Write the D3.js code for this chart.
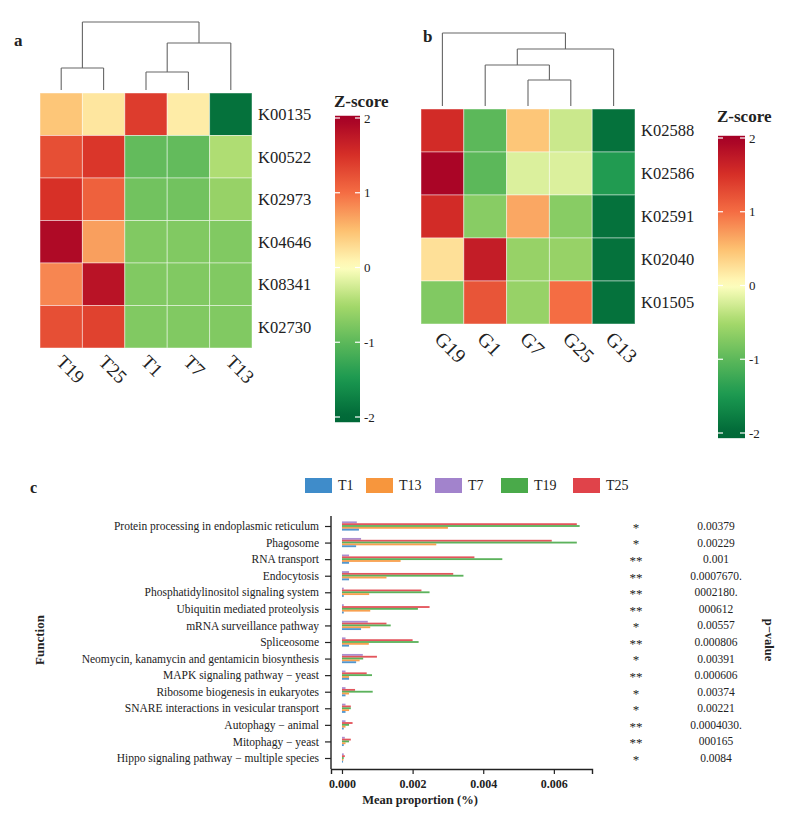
<!DOCTYPE html>
<html><head><meta charset="utf-8">
<script src="https://cdn.jsdelivr.net/npm/d3@7"></script>
<style>body{margin:0;background:#fff}svg{display:block}text{font-family:"Liberation Serif","Times New Roman",serif;fill:#222}</style>
</head><body><svg id="c" width="789" height="837"></svg>
<script>
// ---------- DATA ----------
const colsA = ["T19","T25","T1","T7","T13"];
const rowsA = ["K00135","K00522","K02973","K04646","K08341","K02730"];
const valsA = [
  [0.45, 0.2, 1.4, 0.15, -1.9],
  [1.25, 1.45, -0.95, -0.95, -0.45],
  [1.5, 1.1, -0.85, -0.85, -0.6],
  [1.9, 0.7, -0.75, -0.75, -0.75],
  [0.85, 1.8, -0.75, -0.75, -0.75],
  [1.25, 1.35, -0.75, -0.75, -0.75]
];
const dendroA = {h:68, children:[{h:22, children:[{leaf:"T19"},{leaf:"T25"}]},{h:47, children:[{h:18, children:[{leaf:"T1"},{leaf:"T7"}]},{leaf:"T13"}]}]};

const colsB = ["G19","G1","G7","G25","G13"];
const rowsB = ["K02588","K02586","K02591","K02040","K01505"];
const valsB = [
  [1.55, -1.0, 0.45, -0.3, -1.9],
  [1.95, -1.0, -0.2, -0.2, -1.45],
  [1.55, -0.7, 0.65, -0.7, -1.9],
  [0.25, 1.7, -0.6, -0.6, -1.9],
  [-0.75, 1.2, -0.6, 1.0, -1.9]
];
const dendroB = {h:73, children:[{leaf:"G19"},{h:57, children:[{h:41, children:[{leaf:"G1"},{h:26, children:[{leaf:"G7"},{leaf:"G25"}]}]},{leaf:"G13"}]}]};

const zTicks = [2,1,0,-1,-2];
const zStops = [-2,-1.5,-1,-0.5,0,0.5,1,1.5,2];
const zColors = ["#006837","#1a9850","#5cb85a","#a6d96a","#ffffbf","#fdc070","#f46d43","#d73027","#a50026"];

const functions = ["Protein processing in endoplasmic reticulum","Phagosome","RNA transport","Endocytosis","Phosphatidylinositol signaling system","Ubiquitin mediated proteolysis","mRNA surveillance pathway","Spliceosome","Neomycin, kanamycin and gentamicin biosynthesis","MAPK signaling pathway \u2212 yeast","Ribosome biogenesis in eukaryotes","SNARE interactions in vesicular transport","Autophagy \u2212 animal","Mitophagy \u2212 yeast","Hippo signaling pathway \u2212 multiple species"];
const groups = ["T1","T13","T7","T19","T25"];
const T1  = [0.00048,0.00040,0.00020,0.00020,0.00005,0.00005,0.00054,0.00020,0.00040,0.00020,0.00010,0.00010,0.00005,0.00005,0.00003];
const T13 = [0.00300,0.00267,0.00166,0.00126,0.00077,0.00080,0.00080,0.00076,0.00050,0.00020,0.00020,0.00020,0.00010,0.00010,0.00004];
const T7  = [0.00042,0.00054,0.00020,0.00020,0.00005,0.00005,0.00073,0.00010,0.00059,0.00010,0.00010,0.00010,0.00010,0.00008,0.00005];
const T19 = [0.00673,0.00665,0.00454,0.00344,0.00248,0.00215,0.00138,0.00217,0.00060,0.00085,0.00087,0.00025,0.00020,0.00020,0.00005];
const T25 = [0.00665,0.00594,0.00375,0.00315,0.00225,0.00248,0.00126,0.00200,0.00099,0.00070,0.00037,0.00025,0.00030,0.00025,0.00008];
const stars = ["*","*","**","**","**","**","*","**","*","**","*","*","**","**","*"];
const pvals = ["0.00379","0.00229","0.001","0.0007670.","0002180.","000612","0.00557","0.000806","0.00391","0.000606","0.00374","0.00221","0.0004030.","000165","0.0084"];
const xTicks = [0,0.002,0.004,0.006];

// ---------- DRAW ----------
const svg = d3.select("#c");
const zColor = d3.scaleLinear().domain(zStops).range(zColors).clamp(true);

function heatmap(g, cols, rows, vals, dendro, opt){
  const x = d3.scaleBand().domain(cols).range([opt.x0, opt.x1]);
  const y = d3.scaleBand().domain(rows).range([opt.y0, opt.y1]);
  rows.forEach((r,i)=>cols.forEach((c,j)=>{
    g.append("rect").attr("x",x(c)).attr("y",y(r)).attr("width",x.bandwidth()).attr("height",y.bandwidth())
      .attr("fill",zColor(vals[i][j])).attr("stroke","#fff").attr("stroke-opacity",0.45).attr("stroke-width",1);
  }));
  rows.forEach(r=>g.append("text").attr("x",opt.x1+6).attr("y",y(r)+y.bandwidth()/2).attr("dy","0.35em")
    .attr("font-size",opt.rowFs).text(r));
  cols.forEach(c=>g.append("text").attr("transform",`translate(${x(c)+x.bandwidth()/2-opt.colDx},${opt.y1+opt.colDy}) rotate(45)`)
    .attr("font-size",opt.colFs).text(c));
  // dendrogram
  const hy = d3.scaleLinear().domain([0,opt.hMax]).range([opt.leafY,opt.leafY-opt.hMax]);
  const lines = [];
  function pos(n){
    if(n.leaf) return {x:x(n.leaf)+x.bandwidth()/2,h:0};
    const ch = n.children.map(pos);
    ch.forEach(c=>lines.push([c.x,hy(c.h),c.x,hy(n.h)]));
    lines.push([ch[0].x,hy(n.h),ch[ch.length-1].x,hy(n.h)]);
    return {x:d3.mean(ch,c=>c.x),h:n.h};
  }
  pos(dendro);
  g.selectAll(null).data(lines).join("line").attr("x1",d=>d[0]).attr("y1",d=>d[1]).attr("x2",d=>d[2]).attr("y2",d=>d[3])
    .attr("stroke","#666").attr("stroke-width",1.1);
}

function colorbar(g, o){
  const ys = d3.scaleLinear().domain([2,-2]).range([o.yTop,o.yBot]);
  const id = "grad"+o.id;
  const lg = svg.append("defs").append("linearGradient").attr("id",id).attr("x1",0).attr("x2",0).attr("y1",0).attr("y2",1);
  d3.range(0,1.0001,0.025).forEach(t=>lg.append("stop").attr("offset",t).attr("stop-color",zColor(2.03-t*4.1)));
  g.append("rect").attr("x",o.x).attr("y",ys(2.03)).attr("width",o.w).attr("height",ys(-2.07)-ys(2.03)).attr("fill",`url(#${id})`);
  zTicks.forEach(t=>{
    g.append("line").attr("x1",o.x).attr("x2",o.x+5).attr("y1",ys(t)).attr("y2",ys(t)).attr("stroke","#fff").attr("stroke-width",1.2);
    g.append("line").attr("x1",o.x+o.w-5).attr("x2",o.x+o.w).attr("y1",ys(t)).attr("y2",ys(t)).attr("stroke","#fff").attr("stroke-width",1.2);
    g.append("text").attr("x",o.x+o.w+4).attr("y",ys(t)).attr("dy","0.35em").attr("font-size",13).text(t);
  });
  g.append("text").attr("x",o.x-1).attr("y",o.titleY).attr("font-size",17).attr("font-weight","bold").text("Z-score");
}

// panel a
svg.append("text").attr("x",14).attr("y",46).attr("font-size",17).attr("font-weight","bold").text("a");
heatmap(svg.append("g"), colsA, rowsA, valsA, dendroA, {x0:40,x1:252,y0:93,y1:348,rowFs:16.5,colFs:19,colDx:6,colDy:15,leafY:90,hMax:68});
colorbar(svg.append("g"), {id:"a",x:335,w:25,yTop:118,yBot:417,titleY:107});

// panel b
svg.append("text").attr("x",423).attr("y",42).attr("font-size",17).attr("font-weight","bold").text("b");
heatmap(svg.append("g"), colsB, rowsB, valsB, dendroB, {x0:421,x1:635,y0:109,y1:324,rowFs:16.5,colFs:20,colDx:9,colDy:16,leafY:106,hMax:73});
colorbar(svg.append("g"), {id:"b",x:718,w:27,yTop:138,yBot:433,titleY:122});

// panel c
svg.append("text").attr("x",30).attr("y",493).attr("font-size",16).attr("font-weight","bold").text("c");
const series = {T1,T13,T7,T19,T25};
const colors = {T1:"#3f8cca",T13:"#f7963d",T7:"#a283cc",T19:"#4aaa4a",T25:"#e0434a"};
const stackOrder = ["T7","T25","T19","T13","T1"]; // top -> bottom inside a row
const x = d3.scaleLinear().domain([-0.000311,0.00708]).range([331,592]);
const y = d3.scalePoint().domain(functions).range([526,758]);
const inner = d3.scaleBand().domain(stackOrder).range([-4.6,4.6]);
const gc = svg.append("g");
functions.forEach((f,i)=>{
  stackOrder.forEach(s=>{
    gc.append("rect").attr("x",x(0)).attr("y",y(f)+inner(s)).attr("width",Math.max(0,x(series[s][i])-x(0)))
      .attr("height",inner.bandwidth()).attr("fill",colors[s]).attr("fill-opacity",0.9);
  });
});
// axes
const xa = gc.append("g").attr("transform","translate(0,769)").call(d3.axisBottom(x).tickValues(xTicks).tickFormat(d3.format(".3f")).tickSizeOuter(0).tickSize(5));
xa.select(".domain").attr("stroke","#222").attr("stroke-width",1.4);
xa.selectAll(".tick line").attr("stroke","#222").attr("stroke-width",1.2);
xa.selectAll("text").attr("font-size",12).attr("font-weight","bold").attr("font-family","Liberation Serif").attr("fill","#222").attr("dy","0.9em");
const ya = gc.append("g").attr("transform","translate(331,0)").call(d3.axisLeft(y).tickSize(6).tickSizeOuter(0).tickPadding(6));
ya.select(".domain").attr("d","M0,516V769").attr("stroke","#222").attr("stroke-width",1.4);
ya.selectAll(".tick line").attr("stroke","#222").attr("stroke-width",1.2);
ya.selectAll("text").attr("font-size",11.5).attr("font-family","Liberation Serif").attr("fill","#222");
gc.append("text").attr("x",420).attr("y",804).attr("text-anchor","middle").attr("font-size",12.5).attr("font-weight","bold").text("Mean proportion (%)");
gc.append("text").attr("transform","translate(44,640) rotate(-90)").attr("text-anchor","middle").attr("font-size",13).attr("font-weight","bold").text("Function");
functions.forEach((f,i)=>{
  gc.append("text").attr("x",636).attr("y",y(f)).attr("dy","0.45em").attr("text-anchor","middle").attr("font-size",13).attr("fill","#222").text(stars[i]);
  gc.append("text").attr("x",716).attr("y",y(f)).attr("dy","0.35em").attr("text-anchor","middle").attr("font-size",11.5).text(pvals[i]);
});
gc.append("text").attr("transform","translate(765,640) rotate(90)").attr("text-anchor","middle").attr("font-size",12.5).attr("font-weight","bold").text("p\u2212value");
// legend
const lx = {T1:305,T13:366,T7:435,T19:501,T25:573};
groups.forEach(gname=>{
  gc.append("rect").attr("x",lx[gname]).attr("y",478).attr("width",27).attr("height",15).attr("fill",colors[gname]);
  gc.append("text").attr("x",lx[gname]+33).attr("y",485.5).attr("dy","0.35em").attr("font-size",14).text(gname);
});
</script></body></html>
